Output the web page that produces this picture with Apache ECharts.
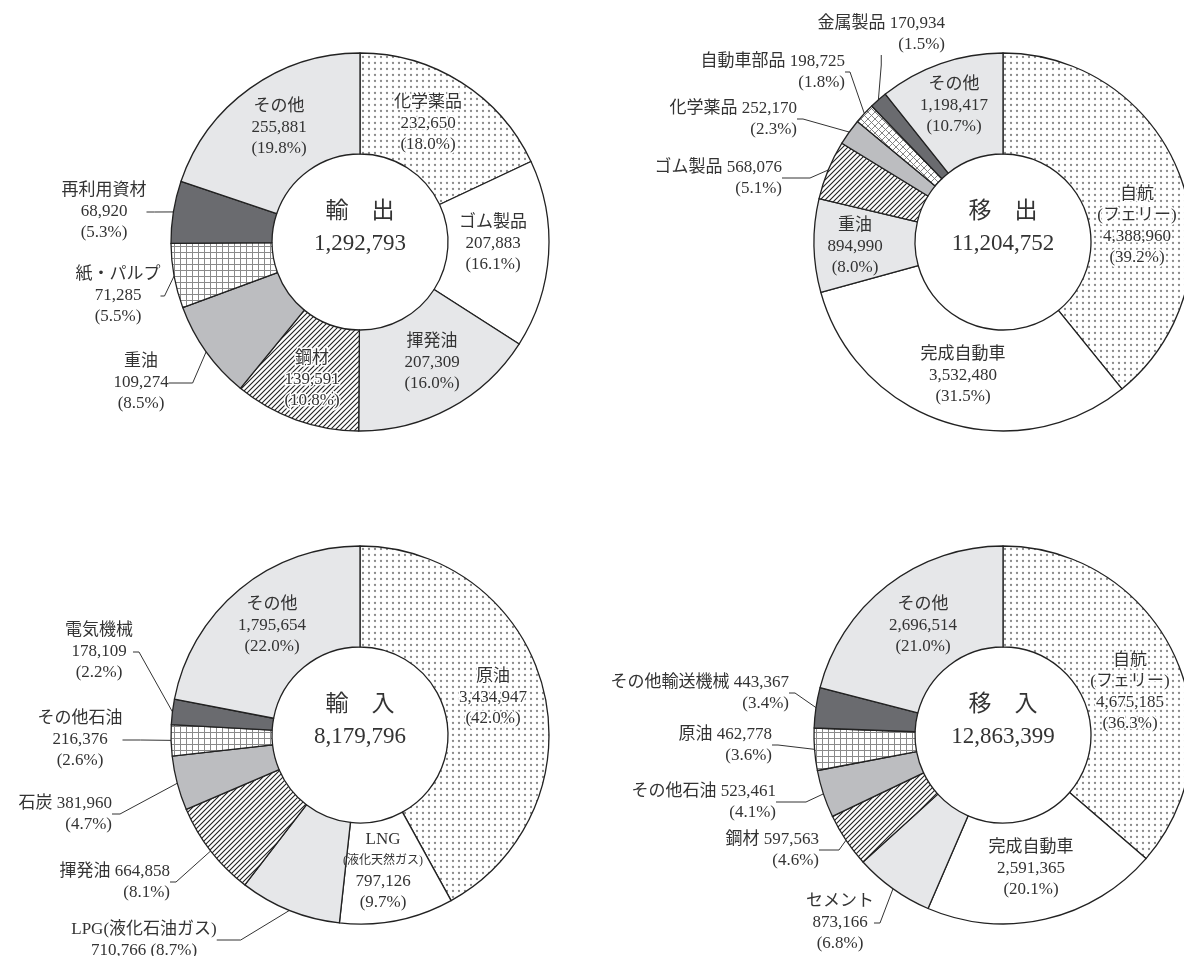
<!DOCTYPE html>
<html><head><meta charset="utf-8">
<script src="https://cdn.jsdelivr.net/npm/echarts@6/dist/echarts.min.js"></script>
<style>html,body{margin:0;padding:0;background:#fff}#c{width:1184px;height:956px}</style>
</head><body><div id="c"></div>
<script>
// ---------- data ----------
const exportTitle = '輸　出';
const exportCategories = ['化学薬品','ゴム製品','揮発油','鋼材','重油','紙・パルプ','再利用資材','その他'];
const exportValues = [232650,207883,207309,139591,109274,71285,68920,255881];

const outboundTitle = '移　出';
const outboundCategories = ['自航(フェリー)','完成自動車','重油','ゴム製品','化学薬品','自動車部品','金属製品','その他'];
const outboundValues = [4388960,3532480,894990,568076,252170,198725,170934,1198417];

const importTitle = '輸　入';
const importCategories = ['原油','LNG(液化天然ガス)','LPG(液化石油ガス)','揮発油','石炭','その他石油','電気機械','その他'];
const importValues = [3434947,797126,710766,664858,381960,216376,178109,1795654];

const inboundTitle = '移　入';
const inboundCategories = ['自航(フェリー)','完成自動車','セメント','鋼材','その他石油','原油','その他輸送機械','その他'];
const inboundValues = [4675185,2591365,873166,597563,523461,462778,443367,2696514];

// ---------- style ----------
const FONT = "'Liberation Serif','Noto Sans CJK JP',serif";
const TEXT = '#333';
function makePattern(kind){
  const c = document.createElement('canvas');
  const g = c.getContext('2d');
  let s;
  if (kind === 'dots') {
    s = 6; c.width = c.height = s;
    g.fillStyle = '#fff'; g.fillRect(0,0,s,s);
    g.fillStyle = '#8a8a8a'; g.beginPath(); g.arc(3,3,1.15,0,Math.PI*2); g.fill();
  } else if (kind === 'hatch') {
    s = 5; c.width = c.height = s;
    g.fillStyle = '#fff'; g.fillRect(0,0,s,s);
    g.strokeStyle = '#222'; g.lineWidth = 1.1;
    g.beginPath();
    g.moveTo(-1, s+1); g.lineTo(s+1, -1);
    g.moveTo(-1, 1); g.lineTo(1, -1);
    g.moveTo(s-1, s+1); g.lineTo(s+1, s-1);
    g.stroke();
  } else if (kind === 'grid') {
    s = 6; c.width = c.height = s;
    g.fillStyle = '#fff'; g.fillRect(0,0,s,s);
    g.strokeStyle = '#8a8a8a'; g.lineWidth = 1;
    g.beginPath(); g.moveTo(0.5,0); g.lineTo(0.5,s); g.moveTo(0,0.5); g.lineTo(s,0.5); g.stroke();
  } else if (kind === 'xgrid') {
    s = 7; c.width = c.height = s;
    g.fillStyle = '#fff'; g.fillRect(0,0,s,s);
    g.strokeStyle = '#777'; g.lineWidth = 0.9;
    g.beginPath();
    g.moveTo(0,0); g.lineTo(s,s);
    g.moveTo(s,0); g.lineTo(0,s);
    g.stroke();
  }
  return { image: c, repeat: 'repeat' };
}
const FILL = {
  dots: makePattern('dots'),
  hatch: makePattern('hatch'),
  grid: makePattern('grid'),
  xgrid: makePattern('xgrid'),
  white: '#ffffff',
  light: '#e6e7e9',
  mid: '#bcbdc0',
  dark: '#6a6b6f'
};
const HALO = { dots: true, hatch: true, grid: true, xgrid: true };

// label placement (style): kind = text layout, x/y anchor, align, out = leader line
const exportStyle = {
  center: [360, 242],
  fills: ['dots','white','light','hatch','mid','grid','dark','light'],
  labels: [
    {kind:'stack', x:428, y:124},
    {kind:'stack', x:493, y:244},
    {kind:'stack', x:432, y:363},
    {kind:'stack', x:312, y:380},
    {kind:'stack', x:141, y:383, out:true, len:24},
    {kind:'stack', x:118, y:296, out:true, len:4},
    {kind:'stack', x:104, y:212, out:true, len:8},
    {kind:'stack', x:279, y:128}
  ]
};
const outboundStyle = {
  center: [1003, 242],
  fills: ['dots','white','light','hatch','mid','xgrid','dark','light'],
  labels: [
    {kind:'split', x:1137, y:226},
    {kind:'stack', x:963, y:376},
    {kind:'stack', x:855, y:247},
    {kind:'inline', x:782, y:178, align:'right', out:true, len:28},
    {kind:'inline', x:797, y:119, align:'right', out:true, len:6},
    {kind:'inline', x:845, y:72, align:'right', out:true, len:5},
    {kind:'inline', x:945, y:34, align:'right', out:true, len:10},
    {kind:'stack', x:954, y:106}
  ]
};
const importStyle = {
  center: [360, 735],
  fills: ['dots','white','light','hatch','mid','grid','dark','light'],
  labels: [
    {kind:'stack', x:493, y:698},
    {kind:'lng', x:383, y:871},
    {kind:'lpg', x:144, y:940, out:true, len:24},
    {kind:'inline', x:170, y:882, align:'right', out:true, len:6},
    {kind:'inline', x:112, y:814, align:'right', out:true, len:8},
    {kind:'stack', x:80, y:740, out:true, len:18},
    {kind:'stack', x:99, y:652, out:true, len:6},
    {kind:'stack', x:272, y:626}
  ]
};
const inboundStyle = {
  center: [1003, 735],
  fills: ['dots','white','light','hatch','mid','grid','dark','light'],
  labels: [
    {kind:'split', x:1130, y:692},
    {kind:'stack', x:1031, y:869},
    {kind:'stack', x:840, y:923, out:true, len:6},
    {kind:'inline', x:819, y:850, align:'right', out:true, len:20},
    {kind:'inline', x:776, y:802, align:'right', out:true, len:30},
    {kind:'inline', x:772, y:745, align:'right', out:true, len:6},
    {kind:'inline', x:789, y:693, align:'right', out:true, len:6},
    {kind:'stack', x:923, y:626}
  ]
};

// ---------- build ----------
const fmt = v => v.toLocaleString('en-US');
function labelText(kind, name, v, total){
  const pct = '(' + (v / total * 100).toFixed(1) + '%)';
  const val = fmt(v);
  if (kind === 'inline') return name + ' ' + val + '\n' + pct;
  if (kind === 'split') { const i = name.indexOf('('); return name.slice(0,i) + '\n' + name.slice(i) + '\n' + val + '\n' + pct; }
  if (kind === 'lng') { const i = name.indexOf('('); return name.slice(0,i) + '\n{s|' + name.slice(i) + '}\n' + val + '\n' + pct; }
  if (kind === 'lpg') return name + '\n' + val + ' ' + pct;
  return name + '\n' + val + '\n' + pct;
}
function buildSeries(cats, vals, st){
  const total = vals.reduce((a,b)=>a+b,0);
  const data = cats.map((n,i)=>{
    const L = st.labels[i];
    const f = st.fills[i];
    const halo = !L.out && HALO[f];
    return {
      name: n, value: vals[i],
      itemStyle: { color: FILL[f] },
      label: {
        position: L.out ? 'outside' : 'inside',
        formatter: labelText(L.kind, n, vals[i], total),
        textBorderColor: halo ? '#fff' : 'transparent',
        textBorderWidth: halo ? 3 : 0
      },
      labelLine: { show: !!L.out, length: 0, length2: L.len || 6, smooth: false,
        lineStyle: { color: '#333', width: 1 } }
    };
  });
  return {
    type: 'pie', center: st.center, radius: [88, 189], startAngle: 90, clockwise: true,
    avoidLabelOverlap: false, animation: false, silent: true,
    itemStyle: { borderColor: '#222', borderWidth: 1.3 },
    label: { fontFamily: FONT, fontSize: 17, lineHeight: 21, color: TEXT,
      rich: { s: { fontFamily: FONT, fontSize: 12, lineHeight: 21, color: TEXT } } },
    emphasis: { disabled: true },
    data: data,
    labelLayout: function(p){
      const L = st.labels[p.dataIndex];
      return { x: L.x, y: L.y, align: L.align || 'center', verticalAlign: 'middle' };
    }
  };
}
function buildTitle(title, vals, st){
  const total = vals.reduce((a,b)=>a+b,0);
  return {
    text: '{t|' + title + '}\n{n|' + fmt(total) + '}',
    left: st.center[0], top: st.center[1] - 46, textAlign: 'center', padding: 0,
    textStyle: { fontFamily: FONT, fontWeight: 'normal', color: TEXT,
      rich: {
        t: { fontFamily: FONT, fontSize: 23, lineHeight: 32, color: TEXT },
        n: { fontFamily: FONT, fontSize: 23, lineHeight: 32, color: TEXT }
      } }
  };
}

const chart = echarts.init(document.getElementById('c'), null, { renderer: 'canvas' });
chart.setOption({
  backgroundColor: '#ffffff',
  animation: false,
  title: [
    buildTitle(exportTitle, exportValues, exportStyle),
    buildTitle(outboundTitle, outboundValues, outboundStyle),
    buildTitle(importTitle, importValues, importStyle),
    buildTitle(inboundTitle, inboundValues, inboundStyle)
  ],
  series: [
    buildSeries(exportCategories, exportValues, exportStyle),
    buildSeries(outboundCategories, outboundValues, outboundStyle),
    buildSeries(importCategories, importValues, importStyle),
    buildSeries(inboundCategories, inboundValues, inboundStyle)
  ]
});
</script></body></html>
